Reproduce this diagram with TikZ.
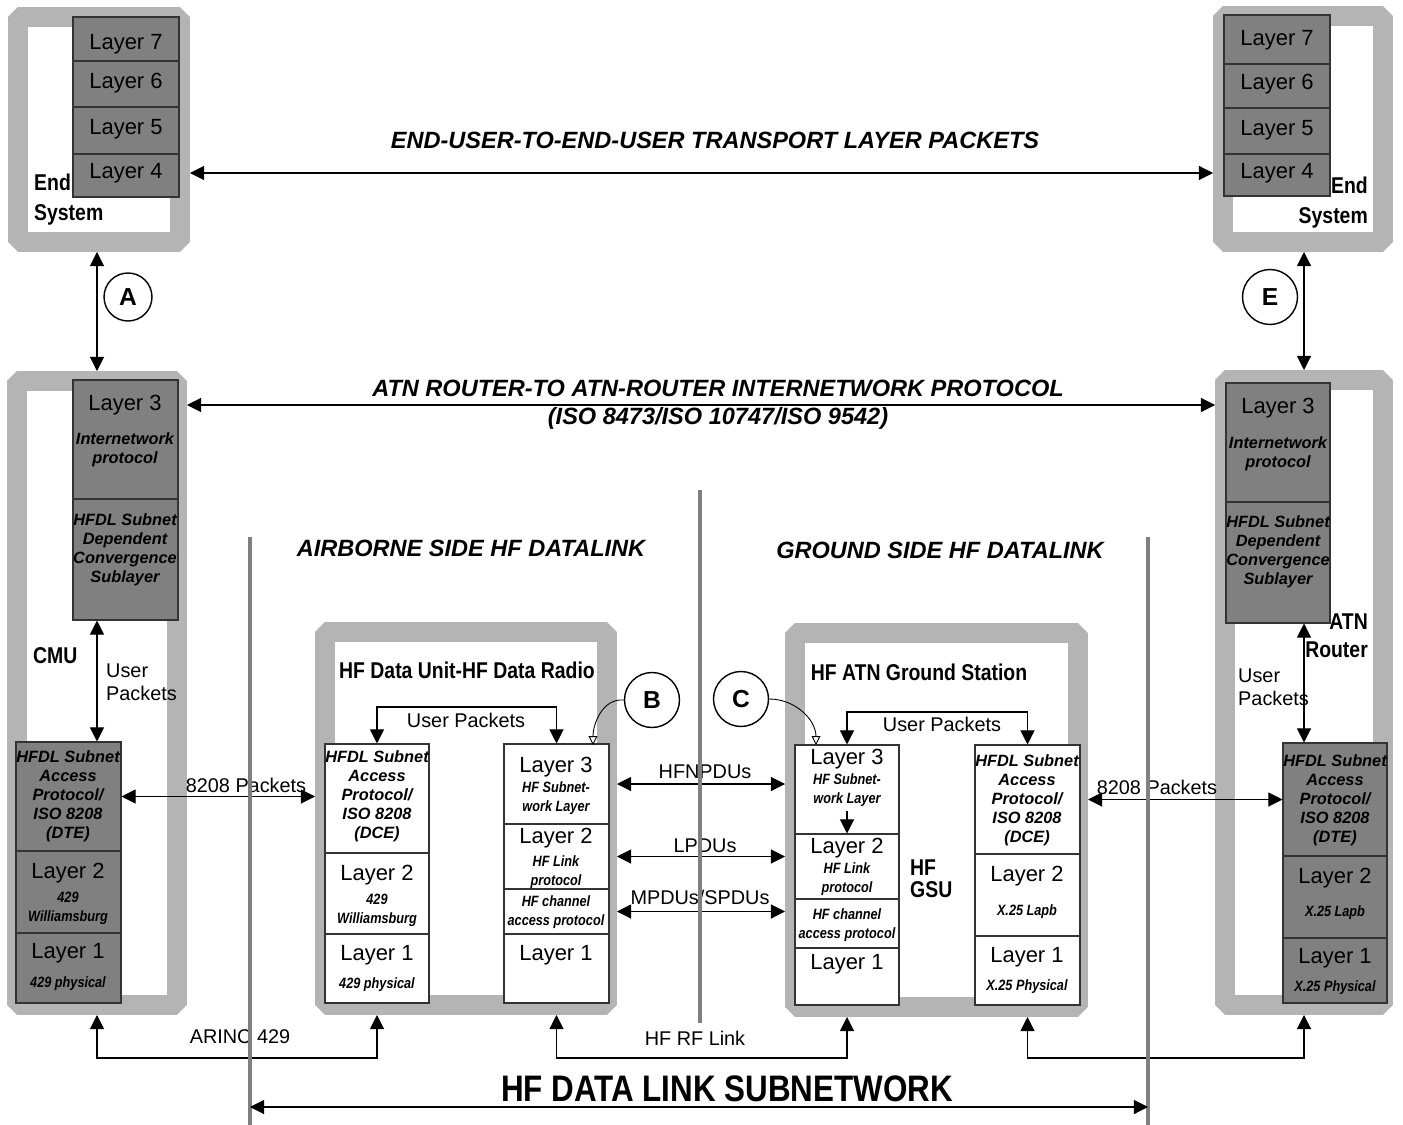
\documentclass[tikz,border=0pt]{standalone}
\usepackage{fontspec}
\setmainfont{Liberation Sans}
\newfontfamily\narrowfont{Liberation Sans}[FakeStretch=0.85]
\usepackage{tikz}
\usetikzlibrary{fit, arrows.meta}

\definecolor{framegray}{HTML}{B4B4B4}
\definecolor{stackgray}{HTML}{808080}
\definecolor{linegray}{HTML}{808080}

\tikzset{
  frame/.style={draw=framegray, line width=0.4cm, line join=bevel, inner sep=0pt},
  cell/.style={draw=black!80, fill=stackgray, line width=0.6pt, inner sep=0pt},
  wcell/.style={cell, fill=white},
  lay/.style={font=\fontsize{12.5}{14}\selectfont},
  subtxt/.style={font=\bfseries\itshape\fontsize{9.3}{10.8}\selectfont, align=center},
  smalltxt/.style={font=\narrowfont\bfseries\itshape\fontsize{8.5}{10.8}\selectfont, align=center},
  title/.style={font=\narrowfont\bfseries\fontsize{13}{17}\selectfont},
  hdr/.style={font=\bfseries\itshape\fontsize{13.4}{16}\selectfont},
  plain/.style={font=\fontsize{11.3}{13}\selectfont},
  letter/.style={circle, draw, line width=0.8pt, minimum size=1.1cm, inner sep=0pt, font=\bfseries\fontsize{14}{16}\selectfont},
  both/.style={{Triangle[length=8pt,width=8pt]}-{Triangle[length=8pt,width=8pt]}, line width=0.6pt},
  tip/.style={-{Triangle[length=8pt,width=8pt]}, line width=0.6pt},
  opentip/.style={-{Triangle[open,length=5pt,width=5pt]}, line width=0.5pt},
  gline/.style={draw=linegray, line width=1.8pt}
}

\begin{document}
\begin{tikzpicture}[x=0.02cm, y=-0.02cm]
\path[fill=white, use as bounding box] (0,0) rectangle (1403,1125);

% frames
\node[frame, fit={(18,17) (180,242)}] (es1) {};
\node[frame, fit={(1223,16) (1383,242)}] (es2) {};
\node[frame, fit={(17,381) (177,1005)}] (cmu) {};
\node[frame, fit={(325,632) (607,1005)}] (hfdu) {};
\node[frame, fit={(795,633) (1078,1007)}] (gs) {};
\node[frame, fit={(1225,380) (1383,1005)}] (atn) {};

% end systems
\node[cell, fit={(73,17) (179,61)}] (es1a) {};
\node[cell, fit={(73,61) (179,107)}] (es1b) {};
\node[cell, fit={(73,107) (179,154)}] (es1c) {};
\node[cell, fit={(73,154) (179,197)}] (es1d) {};
\node[lay] (es1at) at (126,44) {Layer 7};
\node[lay] (es1bt) at (126,83) {Layer 6};
\node[lay] (es1ct) at (126,129) {Layer 5};
\node[lay] (es1dt) at (126,173) {Layer 4};
\node[cell, fit={(1224,15) (1330,64)}] (es2a) {};
\node[cell, fit={(1224,64) (1330,108)}] (es2b) {};
\node[cell, fit={(1224,108) (1330,154)}] (es2c) {};
\node[cell, fit={(1224,154) (1330,196)}] (es2d) {};
\node[lay] (es2at) at (1277,40) {Layer 7};
\node[lay] (es2bt) at (1277,84) {Layer 6};
\node[lay] (es2ct) at (1277,130) {Layer 5};
\node[lay] (es2dt) at (1277,173) {Layer 4};

% CMU
\node[cell, fit={(73,380) (178,499)}] (cmuU1) {};
\node[cell, fit={(73,499) (178,620)}] (cmuU2) {};
\node[lay] (cmuU1a) at (125,405) {Layer 3};
\node[subtxt] (cmuU1b) at (125,450) {Internetwork\\protocol};
\node[subtxt] (cmuU2a) at (125,550) {HFDL Subnet\\Dependent\\Convergence\\Sublayer};
\node[cell, fit={(16,742) (121,851)}] (cmuD1) {};
\node[cell, fit={(16,851) (121,933)}] (cmuD2) {};
\node[cell, fit={(16,933) (121,1003)}] (cmuD3) {};
\node[subtxt] (cmuD1a) at (68,796) {HFDL Subnet\\Access\\Protocol/\\ISO 8208\\(DTE)};
\node[lay] (cmuD2a) at (68,873) {Layer 2};
\node[smalltxt] (cmuD2b) at (68,908) {429\\Williamsburg};
\node[lay] (cmuD3a) at (68,953) {Layer 1};
\node[smalltxt] (cmuD3b) at (68,984) {429 physical};

% HF data unit
\node[wcell, fit={(325,744) (429,853)}] (hfduL1) {};
\node[wcell, fit={(325,853) (429,934)}] (hfduL2) {};
\node[wcell, fit={(325,934) (429,1003)}] (hfduL3) {};
\node[subtxt] (hfduL1a) at (377,796) {HFDL Subnet\\Access\\Protocol/\\ISO 8208\\(DCE)};
\node[lay] (hfduL2a) at (377,875) {Layer 2};
\node[smalltxt] (hfduL2b) at (377,910) {429\\Williamsburg};
\node[lay] (hfduL3a) at (377,955) {Layer 1};
\node[smalltxt] (hfduL3b) at (377,985) {429 physical};
\node[wcell, fit={(504,744) (609,824)}] (hfduR1) {};
\node[wcell, fit={(504,824) (609,889)}] (hfduR2) {};
\node[wcell, fit={(504,889) (609,934)}] (hfduR3) {};
\node[wcell, fit={(504,934) (609,1003)}] (hfduR4) {};
\node[lay] (hfduR1a) at (556,767) {Layer 3};
\node[smalltxt] (hfduR1b) at (556,798) {HF Subnet-\\work Layer};
\node[lay] (hfduR2a) at (556,838) {Layer 2};
\node[smalltxt] (hfduR2b) at (556,872) {HF Link\\protocol};
\node[smalltxt] (hfduR3a) at (556,912) {HF channel\\access protocol};
\node[lay] (hfduR4a) at (556,955) {Layer 1};

% ground station
\node[wcell, fit={(795,745) (899,834)}] (gsL1) {};
\node[wcell, fit={(795,834) (899,899)}] (gsL2) {};
\node[wcell, fit={(795,899) (899,948)}] (gsL3) {};
\node[wcell, fit={(795,948) (899,1005)}] (gsL4) {};
\node[lay] (gsL1a) at (847,759) {Layer 3};
\node[smalltxt] (gsL1b) at (847,790) {HF Subnet-\\work Layer};
\node[lay] (gsL2a) at (847,848) {Layer 2};
\node[smalltxt] (gsL2b) at (847,879) {HF Link\\protocol};
\node[smalltxt] (gsL3a) at (847,925) {HF channel\\access protocol};
\node[lay] (gsL4a) at (847,964) {Layer 1};
\node[wcell, fit={(975,745) (1080,854)}] (gsR1) {};
\node[wcell, fit={(975,854) (1080,936)}] (gsR2) {};
\node[wcell, fit={(975,936) (1080,1005)}] (gsR3) {};
\node[subtxt] (gsR1a) at (1027,800) {HFDL Subnet\\Access\\Protocol/\\ISO 8208\\(DCE)};
\node[lay] (gsR2a) at (1027,876) {Layer 2};
\node[smalltxt] (gsR2b) at (1027,912) {X.25 Lapb};
\node[lay] (gsR3a) at (1027,957) {Layer 1};
\node[smalltxt] (gsR3b) at (1027,987) {X.25 Physical};

% ATN router
\node[cell, fit={(1226,383) (1330,502)}] (atnU1) {};
\node[cell, fit={(1226,502) (1330,623)}] (atnU2) {};
\node[lay] (atnU1a) at (1278,408) {Layer 3};
\node[subtxt] (atnU1b) at (1278,454) {Internetwork\\protocol};
\node[subtxt] (atnU2a) at (1278,552) {HFDL Subnet\\Dependent\\Convergence\\Sublayer};
\node[cell, fit={(1283,743) (1387,856)}] (atnD1) {};
\node[cell, fit={(1283,856) (1387,938)}] (atnD2) {};
\node[cell, fit={(1283,938) (1387,1003)}] (atnD3) {};
\node[subtxt] (atnD1a) at (1335,800) {HFDL Subnet\\Access\\Protocol/\\ISO 8208\\(DTE)};
\node[lay] (atnD2a) at (1335,878) {Layer 2};
\node[smalltxt] (atnD2b) at (1335,913) {X.25 Lapb};
\node[lay] (atnD3a) at (1335,958) {Layer 1};
\node[smalltxt] (atnD3b) at (1335,988) {X.25 Physical};

% titles and labels
\node[title, anchor=west, align=left] (es1t) at (28,200) {End\\System};
\node[title, anchor=east, align=right] (es2t) at (1374,203) {End\\System};
\node[title, anchor=west] (cmut) at (27,656) {CMU};
\node[title, anchor=east, align=right, font=\narrowfont\bfseries\fontsize{13}{16}\selectfont] (atnt) at (1374,636) {ATN\\Router};
\node[title, anchor=west, align=left, font=\narrowfont\bfseries\fontsize{13}{12.5}\selectfont] (gsut) at (904,879) {HF\\GSU};
\node[title] (hfdut) at (467,670) {HF Data Unit-HF Data Radio};
\node[title] (gst) at (919,672) {HF ATN Ground Station};
\node[hdr] (endusr) at (715,140) {END-USER-TO-END-USER TRANSPORT LAYER PACKETS};
\node[hdr, align=center] (atnhdr) at (718,405) {ATN ROUTER-TO ATN-ROUTER INTERNETWORK PROTOCOL\\(ISO 8473/ISO 10747/ISO 9542)};
\node[hdr] (air) at (471,548) {AIRBORNE SIDE HF DATALINK};
\node[hdr] (gnd) at (940,550) {GROUND SIDE HF DATALINK};
\node[plain, anchor=west, align=left] (cmuup) at (100,682) {User\\Packets};
\node[plain, anchor=west, align=left] (atnup) at (1232,687) {User\\Packets};
\node[plain] (hfup) at (466,720) {User Packets};
\node[plain] (gsup) at (942,724) {User Packets};
\node[plain] (pk1) at (246,785) {8208 Packets};
\node[plain] (pk2) at (1157,787) {8208 Packets};
\node[plain] (hfn) at (705,772) {HFNPDUs};
\node[plain] (lpd) at (705,846) {LPDUs};
\node[plain] (mpd) at (700,897) {MPDUs/SPDUs};
\node[plain] (ari) at (240,1037) {ARINC 429};
\node[plain] (rfl) at (695,1038) {HF RF Link};
\node[font=\narrowfont\bfseries\fontsize{21}{24}\selectfont] (subnt) at (727,1089) {HF DATA LINK SUBNETWORK};

\node[letter, minimum size=0.96cm] (A) at (128,297) {A};
\node[letter] (E) at (1270,297) {E};
\node[letter] (B) at (652,700) {B};
\node[letter] (C) at (741,699) {C};

% connectors
\coordinate (base) at (0,1058);
\coordinate (upa) at (0,707);
\coordinate (upg) at (0,712);
\coordinate (subn) at (0,1107);
\coordinate (gsdn) at (847,811);
\coordinate (bt) at (593,745);
\coordinate (ct) at (816,745);
\draw[both] (es1.east |- es1dt.center) -- (es2.west |- es1dt.center);
\draw[both] (es1.south -| cmu.north) -- (cmu.north);
\draw[both] (es2.south -| atn.north) -- (atn.north);
\draw[both] (cmu.east |- cmuU1a.center) -- (atn.west |- cmuU1a.center);
\draw[both] (cmuU2.south -| cmu.center) -- (cmuD1.north -| cmu.center);
\draw[both] (atnU2.south -| atn.center) -- (atnD1.north -| atn.center);
\draw[both] (cmuD1.east) -- (cmuD1.east -| hfdu.west);
\draw[both] (atnD1.west -| gs.east) -- (atnD1.west);
\draw[both] (hfduR1.center -| hfdu.east) -- (hfduR1.center -| gs.west);
\draw[both] (hfduR2.center -| hfdu.east) -- (hfduR2.center -| gs.west);
\draw[both] (hfduR3.center -| hfdu.east) -- (hfduR3.center -| gs.west);
\draw[both] (hfduL1.north) -- (hfduL1.north |- upa) -| (hfduR1.north);
\draw[both] (gsL1.north) -- (gsL1.north |- upg) -| (gsR1.north);
\draw[both] (cmu.south) -- (cmu.south |- base) -| (hfduL3.south |- hfdu.south);
\draw[both] (hfduR4.south |- hfdu.south) -- (hfduR4.south |- base) -| (gsL4.south |- gs.south);
\draw[both] (gsR3.south |- gs.south) -- (gsR3.south |- base) -| (atn.south);
\draw[tip] (gsdn) -- (gsL2.north);
\draw[opentip] (B.west) to[out=175, in=90] (bt);
\draw[opentip] (C.east) to[out=0, in=90] (ct);

% subnetwork boundaries
\coordinate (v1t) at (250,537);
\coordinate (v1b) at (250,1125);
\coordinate (v2t) at (700,490);
\coordinate (v2b) at (700,1023);
\coordinate (v3t) at (1148,537);
\coordinate (v3b) at (1148,1125);
\draw[gline] (v1t) -- (v1b);
\draw[gline] (v2t) -- (v2b);
\draw[gline] (v3t) -- (v3b);
\draw[both] (v1b |- subn) -- (v3b |- subn);
\end{tikzpicture}
\end{document}
